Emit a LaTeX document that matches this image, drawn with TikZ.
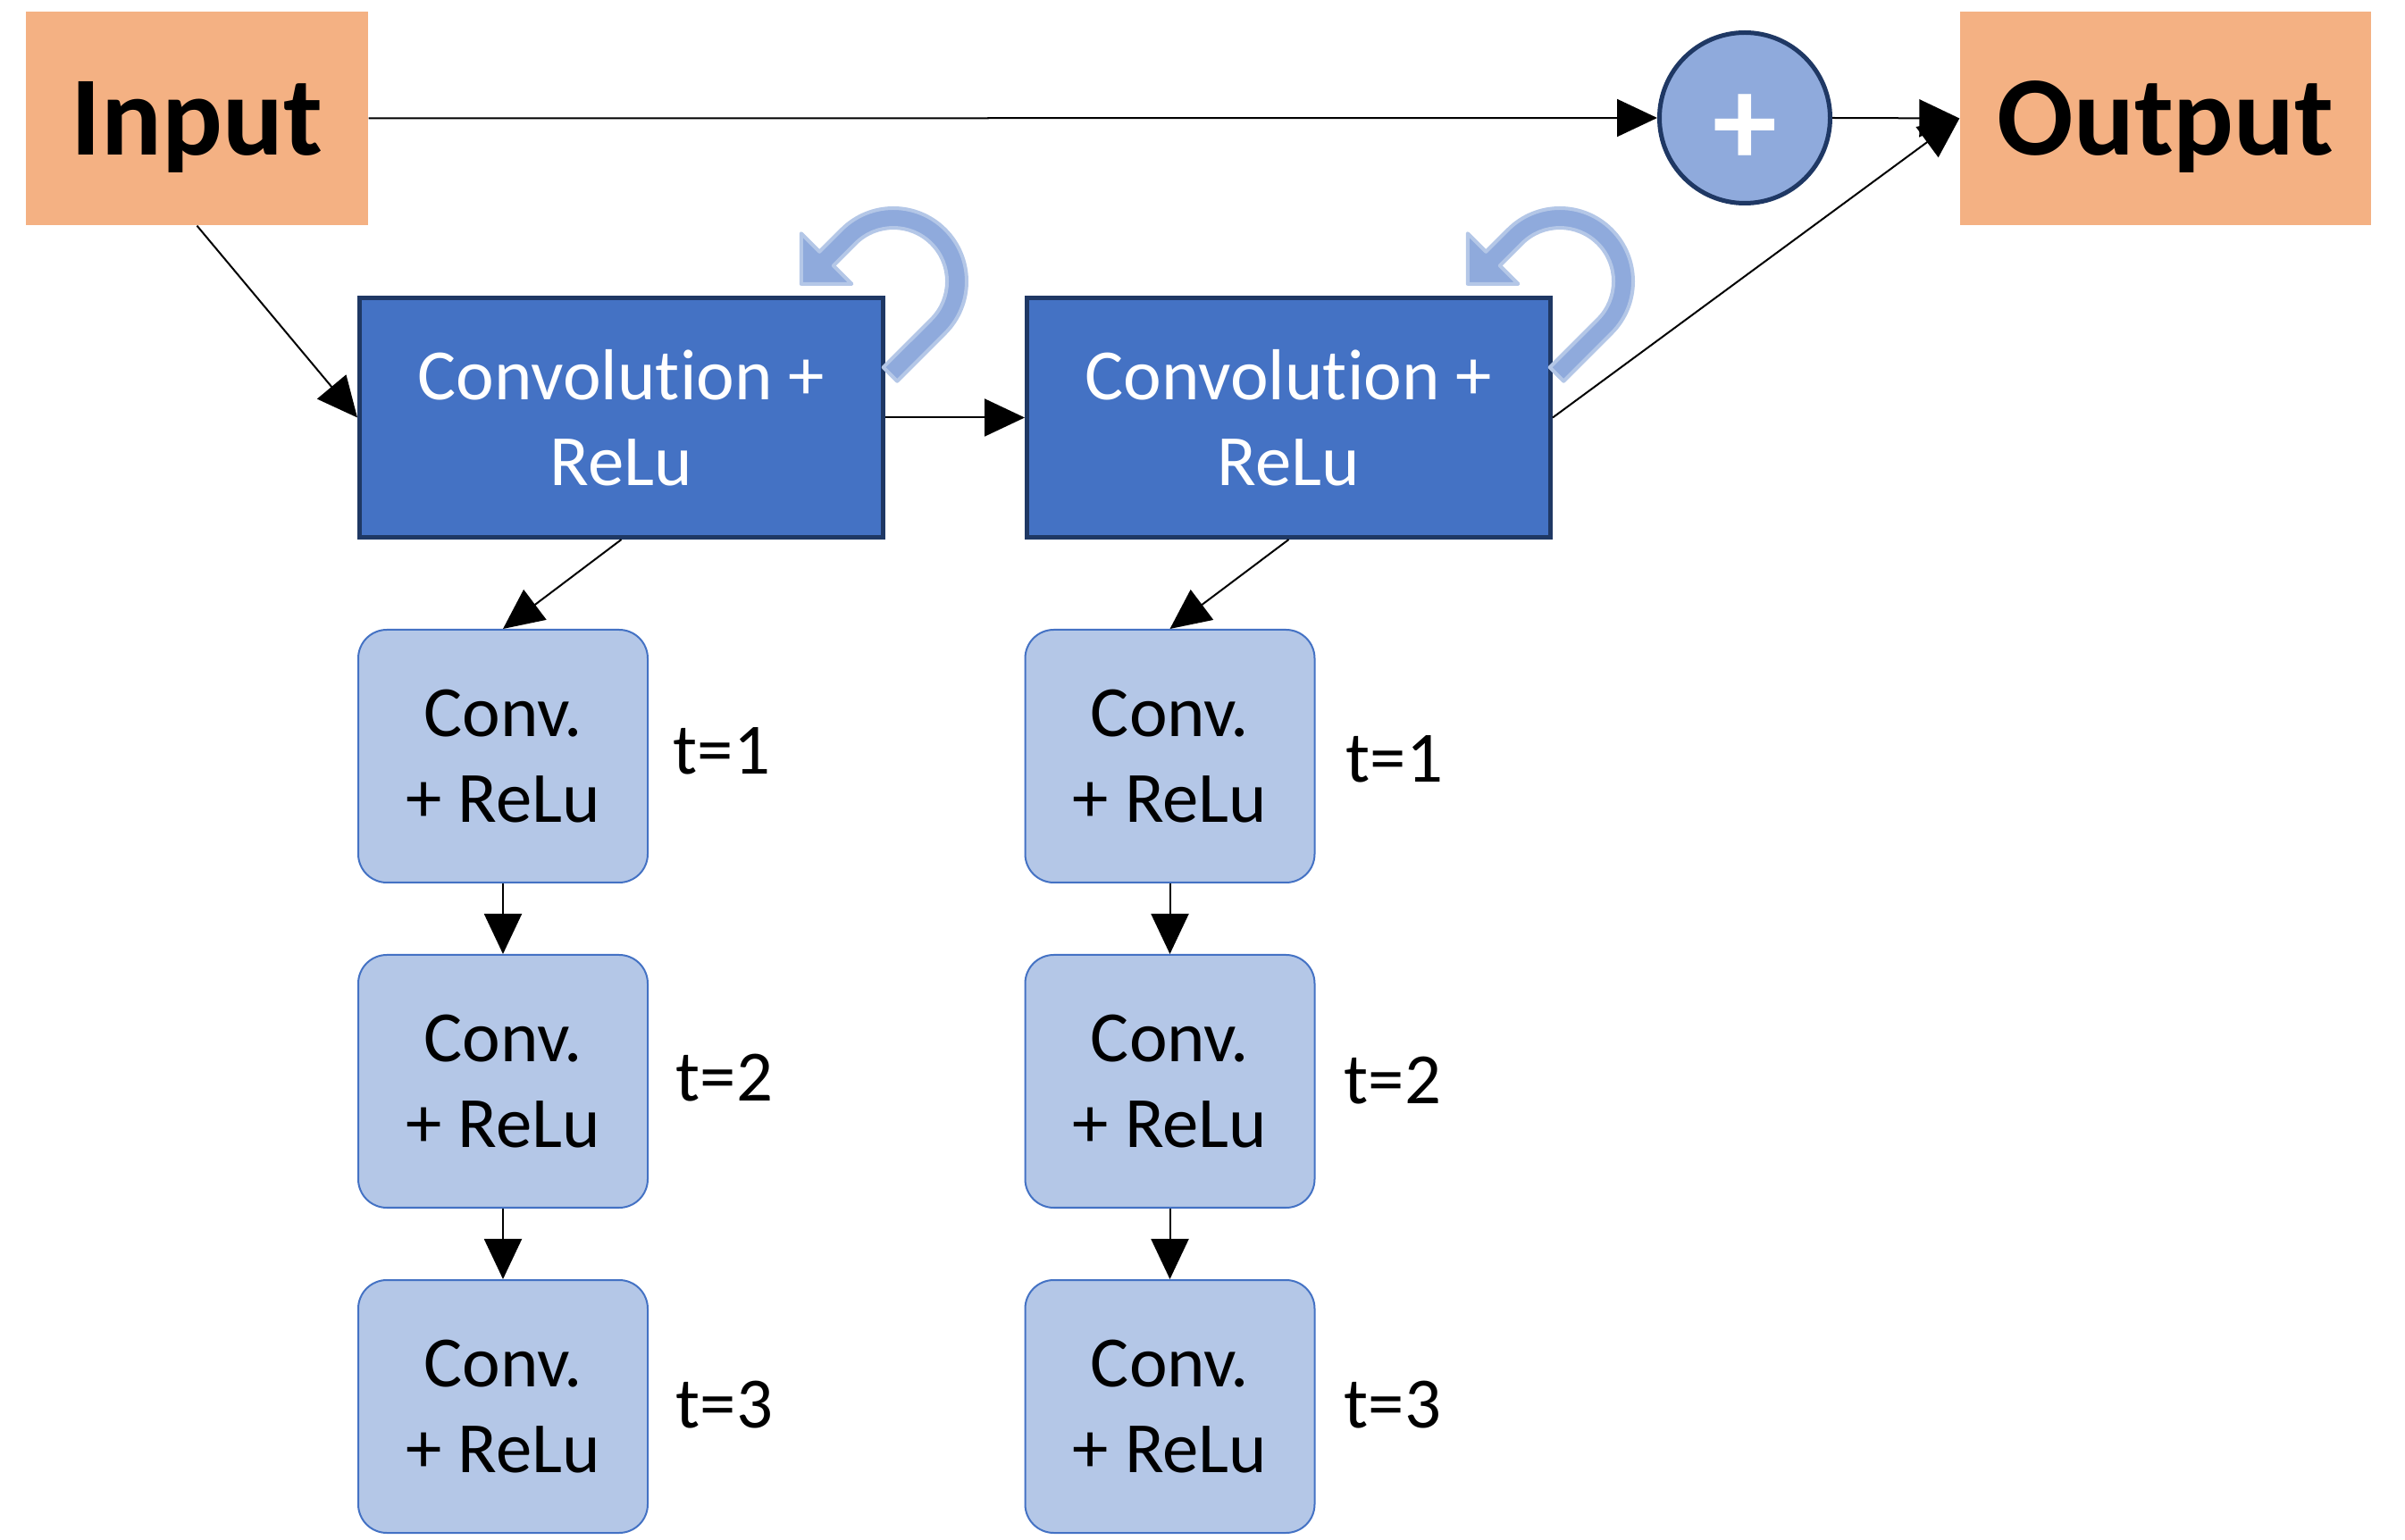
\documentclass[tikz,border=0pt]{standalone}
\usepackage{fontspec}
\setmainfont{Carlito}[Ligatures={NoCommon,NoRare,NoContextual}, Contextuals=NoAlternate]
\usetikzlibrary{arrows.meta,positioning,calc}

\definecolor{ioorange}{HTML}{F4B183}
\definecolor{convblue}{HTML}{4472C4}
\definecolor{convedge}{HTML}{1F3864}
\definecolor{stepblue}{HTML}{B4C7E7}
\definecolor{loopblue}{HTML}{8FAADC}

\tikzset{
  iobox/.style={fill=ioorange, minimum width=3.83cm, minimum height=2.39cm, text depth=0pt, font=\fontsize{36}{40}\selectfont\bfseries},
  convbox/.style={draw=convedge, line width=0.05cm, fill=convblue, text=white, minimum width=5.86cm, minimum height=2.68cm, align=center, font=\fontsize{23}{27.3}\selectfont},
  stepbox/.style={draw=convblue, line width=0.02cm, fill=stepblue, rounded corners=0.32cm, minimum width=3.24cm, minimum height=2.83cm, align=center, font=\fontsize{23}{27.3}\selectfont},
  tlabel/.style={inner sep=0pt, font=\fontsize{23}{27.3}\selectfont},
  conn/.style={line width=0.02cm, -{Triangle[length=0.45cm,width=0.42cm]}},
  loop arrow/.style={draw=stepblue, fill=loopblue, line width=0.04cm, line join=round}
}

\begin{document}
\begin{tikzpicture}
    \useasboundingbox (0,0) rectangle (26.92,-17.24);

    % Draw nodes
    \node[iobox] (in) at (2.205,-1.325) {Input};
    \node[iobox, minimum width=4.60cm] (out) at (24.24,-1.325) {Output};
    \node[circle, draw=convedge, line width=0.05cm, fill=loopblue, minimum size=1.91cm, inner sep=0pt, text=white, font=\fontsize{41}{41}\selectfont\bfseries] (sum) at (19.53,-1.32) {\raisebox{-0.14cm}[\height][\depth]{+}};

    \node[convbox] (c1) at (6.955,-4.675) {Convolution +\\ReLu};
    \node[convbox] (c2) at (14.425,-4.675) {Convolution +\\ReLu};

    \node[stepbox] (s11) at (5.63,-8.465) {Conv.\\+ ReLu};
    \node[stepbox] (s12) at (5.63,-12.105) {Conv.\\+ ReLu};
    \node[stepbox] (s13) at (5.63,-15.745) {Conv.\\+ ReLu};
    \node[stepbox] (s21) at (13.095,-8.465) {Conv.\\+ ReLu};
    \node[stepbox] (s22) at (13.095,-12.105) {Conv.\\+ ReLu};
    \node[stepbox] (s23) at (13.095,-15.745) {Conv.\\+ ReLu};

    % Labels
    \node[tlabel] (t11) at (8.08,-8.41) {t=1};
    \node[tlabel] (t12) at (8.11,-12.07) {t=2};
    \node[tlabel] (t13) at (8.11,-15.73) {t=3};
    \node[tlabel] (t21) at (15.61,-8.50) {t=1};
    \node[tlabel] (t22) at (15.59,-12.10) {t=2};
    \node[tlabel] (t23) at (15.59,-15.73) {t=3};

    % Recurrent loops
    \draw[loop arrow] ($(c1.north east)+(0.09,0.16)+(-45:0.82)+(225:0.76)$) -- ++(45:0.76)
        arc[start angle=-45, end angle=135, radius=0.82] -- ++(225:0.35) -- ++(135:0.29)
        -- ++(0,-0.566) -- ++(0.566,0) -- ++(135:0.29) -- ++(45:0.35)
        arc[start angle=135, end angle=-45, radius=0.60] -- ++(225:0.76) -- cycle;
    \draw[loop arrow] ($(c2.north east)+(0.08,0.16)+(-45:0.82)+(225:0.76)$) -- ++(45:0.76)
        arc[start angle=-45, end angle=135, radius=0.82] -- ++(225:0.35) -- ++(135:0.29)
        -- ++(0,-0.566) -- ++(0.566,0) -- ++(135:0.29) -- ++(45:0.35)
        arc[start angle=135, end angle=-45, radius=0.60] -- ++(225:0.76) -- cycle;

    % Draw connections
    \draw[conn] (in.east) -- (sum.west);
    \draw[conn] (sum.east) -- (out.west);
    \draw[conn] (in.south) -- (c1.west);
    \draw[conn] (c1.east) -- (c2.west);
    \draw[conn] (c2.east) -- (out.west);
    \draw[conn] (c1.south) -- (s11.north);
    \draw[conn] (s11.south) -- (s12.north);
    \draw[conn] (s12.south) -- (s13.north);
    \draw[conn] (c2.south) -- (s21.north);
    \draw[conn] (s21.south) -- (s22.north);
    \draw[conn] (s22.south) -- (s23.north);
\end{tikzpicture}
\end{document}
